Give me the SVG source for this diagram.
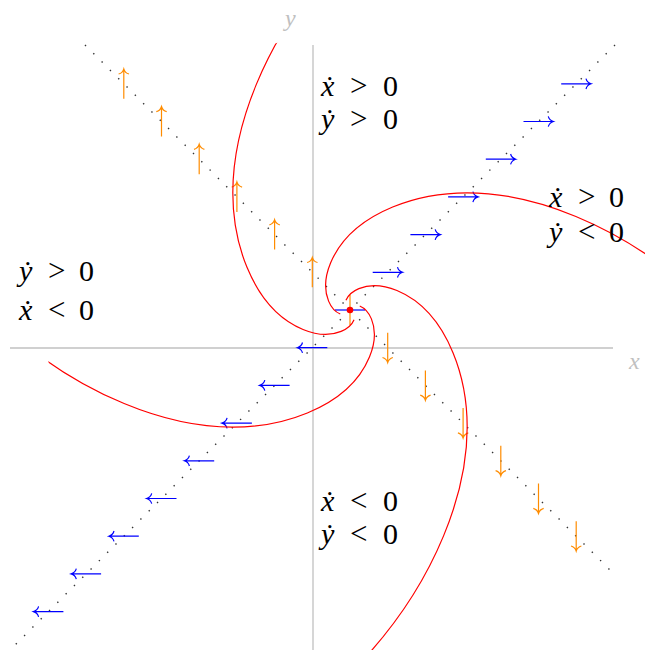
<svg xmlns="http://www.w3.org/2000/svg" xmlns:xlink="http://www.w3.org/1999/xlink" width="645" height="650" viewBox="0 0 645 650">
<style>
.axis{stroke:#c0c0c0;stroke-width:1.3;fill:none}
.dots{stroke:#333;stroke-width:1.4;stroke-dasharray:1.4 10.35;fill:none}
.bl{stroke:#0000ff;stroke-width:1.2;fill:none}
.or{stroke:#ff8c00;stroke-width:1.2;fill:none}
.traj{stroke:#ff0000;stroke-width:1.2;fill:none}
.lab{font-family:"Liberation Serif","DejaVu Serif",serif;font-size:30px;fill:#000}
.it{font-style:italic}
.rel{font-size:31px}
.axl{font-family:"Liberation Serif","DejaVu Serif",serif;font-size:24px;font-style:italic;fill:#c0c0c0}
</style>
<defs>
<path id="arr" d="M-15,0 H15 M9.8,-5.2 C10.5,-2.5 13,-0.6 15,0 C13,0.6 10.5,2.5 9.8,5.2"/>
<path id="spiral" d="M4.043,9.762 C2.546,13.376 -0.941,18.123 -8.867,21.406 C-16.793,24.689 -29.574,26.652 -46.96,19.45 C-64.346,12.248 -87.206,-4.526 -103.0,-42.66 C-118.794,-80.794 -128.201,-142.258 -93.56,-225.89 C-58.919,-309.522 21.78,-419.43 205.2,-495.4"/>
<clipPath id="cTop"><circle cx="0" cy="0" r="277"/></clipPath>
<clipPath id="cLeft"><circle cx="0" cy="0" r="306"/></clipPath>
</defs>
<g id="axes">
<line class="axis" x1="10" y1="348" x2="613" y2="348"/>
<line class="axis" x1="313" y1="45" x2="313" y2="650"/>
<text class="axl" x="629" y="369">x</text>
<text class="axl" x="285" y="26">y</text>
</g>
<g id="nullclines">
<line class="dots" x1="85" y1="45" x2="612" y2="572"/>
<line class="dots" x1="615" y1="45" x2="10" y2="650"/>
</g>
<g id="field-blue" class="bl">
<use xlink:href="#arr" transform="translate(387.7,272.3)"/>
<use xlink:href="#arr" transform="translate(425.4,234.6)"/>
<use xlink:href="#arr" transform="translate(463.1,196.9)"/>
<use xlink:href="#arr" transform="translate(500.8,159.2)"/>
<use xlink:href="#arr" transform="translate(538.5,121.5)"/>
<use xlink:href="#arr" transform="translate(576.2,83.8)"/>
<use xlink:href="#arr" transform="translate(312.3,347.7) rotate(180)"/>
<use xlink:href="#arr" transform="translate(274.6,385.4) rotate(180)"/>
<use xlink:href="#arr" transform="translate(236.9,423.1) rotate(180)"/>
<use xlink:href="#arr" transform="translate(199.2,460.8) rotate(180)"/>
<use xlink:href="#arr" transform="translate(161.5,498.5) rotate(180)"/>
<use xlink:href="#arr" transform="translate(123.8,536.2) rotate(180)"/>
<use xlink:href="#arr" transform="translate(86.1,573.9) rotate(180)"/>
<use xlink:href="#arr" transform="translate(48.4,611.6) rotate(180)"/>
<line x1="335" y1="310" x2="365" y2="310"/>
</g>
<g id="field-orange" class="or">
<use xlink:href="#arr" transform="translate(387.7,347.7) rotate(90)"/>
<use xlink:href="#arr" transform="translate(425.4,385.4) rotate(90)"/>
<use xlink:href="#arr" transform="translate(463.1,423.1) rotate(90)"/>
<use xlink:href="#arr" transform="translate(500.8,460.8) rotate(90)"/>
<use xlink:href="#arr" transform="translate(538.5,498.5) rotate(90)"/>
<use xlink:href="#arr" transform="translate(576.2,536.2) rotate(90)"/>
<use xlink:href="#arr" transform="translate(312.3,272.3) rotate(-90)"/>
<use xlink:href="#arr" transform="translate(274.6,234.6) rotate(-90)"/>
<use xlink:href="#arr" transform="translate(236.9,196.9) rotate(-90)"/>
<use xlink:href="#arr" transform="translate(199.2,159.2) rotate(-90)"/>
<use xlink:href="#arr" transform="translate(161.5,121.5) rotate(-90)"/>
<use xlink:href="#arr" transform="translate(123.8,83.8) rotate(-90)"/>
<line x1="350" y1="295" x2="350" y2="325"/>
</g>
<g id="trajectories" class="traj" transform="translate(350,310)">
<g id="traj-top" clip-path="url(#cTop)"><use xlink:href="#spiral"/></g>
<g id="traj-right"><use xlink:href="#spiral" transform="rotate(90)"/></g>
<g id="traj-bottom"><use xlink:href="#spiral" transform="rotate(180)"/></g>
<g id="traj-left" clip-path="url(#cLeft)"><use xlink:href="#spiral" transform="rotate(-90)"/></g>
</g>
<g id="equilibrium"><circle cx="350" cy="310" r="3.3" fill="#ff0000"/></g>
<g id="label-top" class="lab">
<text y="96"><tspan class="it" x="321">ẋ</tspan><tspan class="rel" x="350">&gt;</tspan><tspan x="383">0</tspan></text>
<text y="129"><tspan class="it" x="321">ẏ</tspan><tspan class="rel" x="350">&gt;</tspan><tspan x="383">0</tspan></text>
</g>
<g id="label-right" class="lab">
<text y="207"><tspan class="it" x="549">ẋ</tspan><tspan class="rel" x="578">&gt;</tspan><tspan x="609">0</tspan></text>
<text y="242"><tspan class="it" x="549">ẏ</tspan><tspan class="rel" x="578">&lt;</tspan><tspan x="609">0</tspan></text>
</g>
<g id="label-left" class="lab">
<text y="281"><tspan class="it" x="19">ẏ</tspan><tspan class="rel" x="48">&gt;</tspan><tspan x="79">0</tspan></text>
<text y="320"><tspan class="it" x="19">ẋ</tspan><tspan class="rel" x="48">&lt;</tspan><tspan x="79">0</tspan></text>
</g>
<g id="label-bottom" class="lab">
<text y="511"><tspan class="it" x="321">ẋ</tspan><tspan class="rel" x="350">&lt;</tspan><tspan x="383">0</tspan></text>
<text y="544"><tspan class="it" x="321">ẏ</tspan><tspan class="rel" x="350">&lt;</tspan><tspan x="383">0</tspan></text>
</g>
</svg>
